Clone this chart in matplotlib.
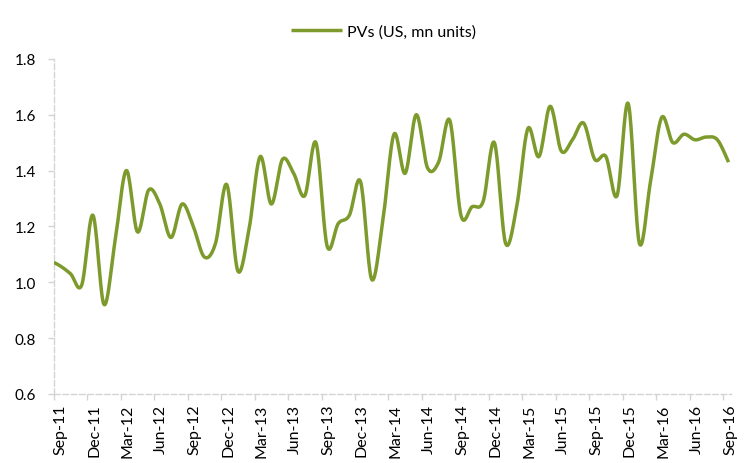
"""PVs (US, mn units), monthly, Sep-11 to Sep-16 -- Excel-style smoothed line."""
import matplotlib
matplotlib.use("Agg")
import matplotlib.pyplot as plt
import matplotlib.transforms as mtransforms
import numpy as np

plt.rcParams.update({
    "font.family": ["Lato", "DejaVu Sans"],
    "font.size": 11,
})

C_LINE = "#7D9B2C"
C_AXIS = "#D4D4D4"

# first value is Aug-11 (only its tail shows, the axis starts at Sep-11)
months = ["Aug-11",
          "Sep-11", "Oct-11", "Nov-11", "Dec-11", "Jan-12", "Feb-12", "Mar-12", "Apr-12",
          "May-12", "Jun-12", "Jul-12", "Aug-12", "Sep-12", "Oct-12", "Nov-12", "Dec-12",
          "Jan-13", "Feb-13", "Mar-13", "Apr-13", "May-13", "Jun-13", "Jul-13", "Aug-13",
          "Sep-13", "Oct-13", "Nov-13", "Dec-13", "Jan-14", "Feb-14", "Mar-14", "Apr-14",
          "May-14", "Jun-14", "Jul-14", "Aug-14", "Sep-14", "Oct-14", "Nov-14", "Dec-14",
          "Jan-15", "Feb-15", "Mar-15", "Apr-15", "May-15", "Jun-15", "Jul-15", "Aug-15",
          "Sep-15", "Oct-15", "Nov-15", "Dec-15", "Jan-16", "Feb-16", "Mar-16", "Apr-16",
          "May-16", "Jun-16", "Jul-16", "Aug-16", "Sep-16"]
pvs = [1.08,
       1.06, 1.03, 0.99, 1.24, 0.92, 1.15, 1.40, 1.18,
       1.33, 1.28, 1.16, 1.28, 1.20, 1.09, 1.14, 1.35,
       1.04, 1.19, 1.45, 1.28, 1.44, 1.39, 1.31, 1.50,
       1.13, 1.21, 1.24, 1.36, 1.01, 1.22, 1.53, 1.39,
       1.60, 1.41, 1.43, 1.58, 1.24, 1.27, 1.29, 1.50,
       1.14, 1.27, 1.55, 1.45, 1.63, 1.47, 1.51, 1.57,
       1.44, 1.45, 1.31, 1.64, 1.14, 1.36, 1.59, 1.50,
       1.53, 1.51, 1.52, 1.51, 1.43]
tick_labels = ["Sep-11", "Dec-11", "Mar-12", "Jun-12", "Sep-12", "Dec-12", "Mar-13",
               "Jun-13", "Sep-13", "Dec-13", "Mar-14", "Jun-14", "Sep-14", "Dec-14",
               "Mar-15", "Jun-15", "Sep-15", "Dec-15", "Mar-16", "Jun-16", "Sep-16"]


def smooth(x, y, n=20):
    # Excel "smoothed line" = Bezier through points, Catmull-Rom control points
    x = np.asarray(x, float); y = np.asarray(y, float)
    px = np.concatenate([[x[0]], x, [x[-1]]])
    py = np.concatenate([[y[0]], y, [y[-1]]])
    t = np.linspace(0, 1, n, endpoint=False)[:, None]
    xs, ys = [], []
    for i in range(1, len(px) - 2):
        p0 = np.array([px[i], py[i]]); p3 = np.array([px[i + 1], py[i + 1]])
        p1 = p0 + (np.array([px[i + 1], py[i + 1]]) - np.array([px[i - 1], py[i - 1]])) / 6
        p2 = p3 - (np.array([px[i + 2], py[i + 2]]) - np.array([px[i], py[i]])) / 6
        b = ((1 - t) ** 3) * p0 + 3 * ((1 - t) ** 2) * t * p1 + 3 * (1 - t) * t ** 2 * p2 + t ** 3 * p3
        xs.append(b[:, 0]); ys.append(b[:, 1])
    xs.append([x[-1]]); ys.append([y[-1]])
    return np.concatenate(xs), np.concatenate(ys)


fig = plt.figure(figsize=(7.48, 4.64), dpi=100)
ax = fig.add_axes([0.072, 0.149, 0.905, 0.722])

# data sit mid-month; month 0 = start of Sep-11
xpos = np.arange(len(pvs)) - 0.5
sx, sy = smooth(xpos, pvs)
ax.plot(sx, sy, color=C_LINE, lw=2.5, solid_capstyle="butt",
        label="PVs (US, mn units)", zorder=3)

ax.set_xlim(0, 60.7)
ax.set_ylim(0.6, 1.8)
ax.set_yticks(np.arange(0.6, 1.81, 0.2))
ax.set_yticklabels([f"{v:.1f}" for v in np.arange(0.6, 1.81, 0.2)], fontsize=11)
ax.set_xticks(np.arange(0, 61, 3))
ax.set_xticklabels(tick_labels, rotation=90, fontsize=11.5)

for s in ("top", "right"):
    ax.spines[s].set_visible(False)
for s in ("left", "bottom"):
    ax.spines[s].set_color(C_AXIS)
    ax.spines[s].set_linewidth(1.0)
    ax.spines[s].set_linestyle((0, (4, 2)))
ax.tick_params(axis="both", color=C_AXIS, length=4, width=1.0, labelcolor="black")
ax.tick_params(axis="y", pad=9)
ax.tick_params(axis="x", pad=3)

offset = mtransforms.ScaledTranslation(7 / 100, 0, fig.dpi_scale_trans)
for lab in ax.get_xticklabels():
    lab.set_transform(lab.get_transform() + offset)

ax.legend(loc="lower center", bbox_to_anchor=(0.487, 1.04), frameon=False, fontsize=11.5,
          handlelength=3.2, handletextpad=0.3, borderaxespad=0)

fig.savefig("out.png", dpi=100)
